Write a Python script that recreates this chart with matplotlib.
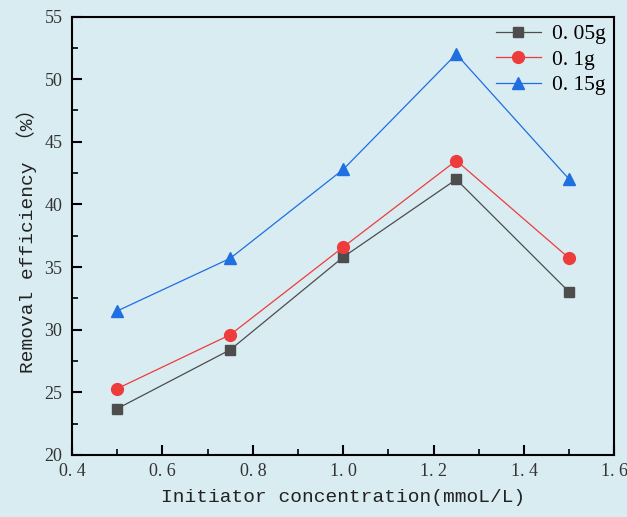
import matplotlib
matplotlib.use("Agg")
import matplotlib.pyplot as plt
from matplotlib.ticker import AutoMinorLocator

x = [0.5, 0.75, 1.0, 1.25, 1.5]
s005 = [23.7, 28.4, 35.8, 42.0, 33.0]
s01 = [25.3, 29.6, 36.6, 43.5, 35.7]
s015 = [31.5, 35.7, 42.8, 52.0, 42.0]
labels = ["0. 05g", "0. 1g", "0. 15g"]
xticks = [0.4, 0.6, 0.8, 1.0, 1.2, 1.4, 1.6]
xticklabels = ["0. 4", "0. 6", "0. 8", "1. 0", "1. 2", "1. 4", "1. 6"]
yticks = [20, 25, 30, 35, 40, 45, 50, 55]

bg = "#d9ecf2"
serif = ['Liberation Serif', 'Noto Sans CJK SC']
mono = ['Liberation Mono', 'Noto Sans CJK SC']
plt.rcParams['font.family'] = serif

fig = plt.figure(figsize=(6.27, 5.17), dpi=100, facecolor=bg)
ax = fig.add_axes([0.115, 0.12, 0.865, 0.848])
ax.set_facecolor(bg)

ax.plot(x, s005, color="#4d4d4d", marker="s", ms=7.5, lw=0.9, label=labels[0])
ax.plot(x, s01, color="#ee3c3c", marker="o", ms=8.5, lw=0.9, label=labels[1])
ax.plot(x, s015, color="#1f6fe0", marker="^", ms=9, lw=0.9, label=labels[2])

ax.set_xlim(0.4, 1.6)
ax.set_ylim(20, 55)
ax.set_xticks(xticks)
ax.set_xticklabels(xticklabels)
ax.set_yticks(yticks)
ax.xaxis.set_minor_locator(AutoMinorLocator(2))
ax.yaxis.set_minor_locator(AutoMinorLocator(2))
ax.tick_params(which="both", direction="in", top=False, right=False, labelsize=13, labelcolor="#333333")
ax.tick_params(which="major", length=7, width=1.5, color="black")
ax.tick_params(which="minor", length=4, width=1.2, color="black")
ax.tick_params(axis="x", which="major", pad=6)
ax.tick_params(axis="y", which="major", pad=7)
for sp in ax.spines.values():
    sp.set_linewidth(1.5)

ax.set_xlabel("Initiator concentration(mmoL/L)", fontsize=14, color="#222222", family=mono, labelpad=6)
ax.set_ylabel("Removal efficiency （%）", fontsize=14, color="#222222", family=mono, labelpad=5)

leg = ax.legend(loc="upper right", frameon=False, fontsize=15.5, handlelength=2.1,
                borderaxespad=0.15, labelspacing=0.25, handletextpad=0.5,
                borderpad=0.2, bbox_to_anchor=(0.997, 1.0))

fig.savefig("out.png", dpi=100, facecolor=bg)
